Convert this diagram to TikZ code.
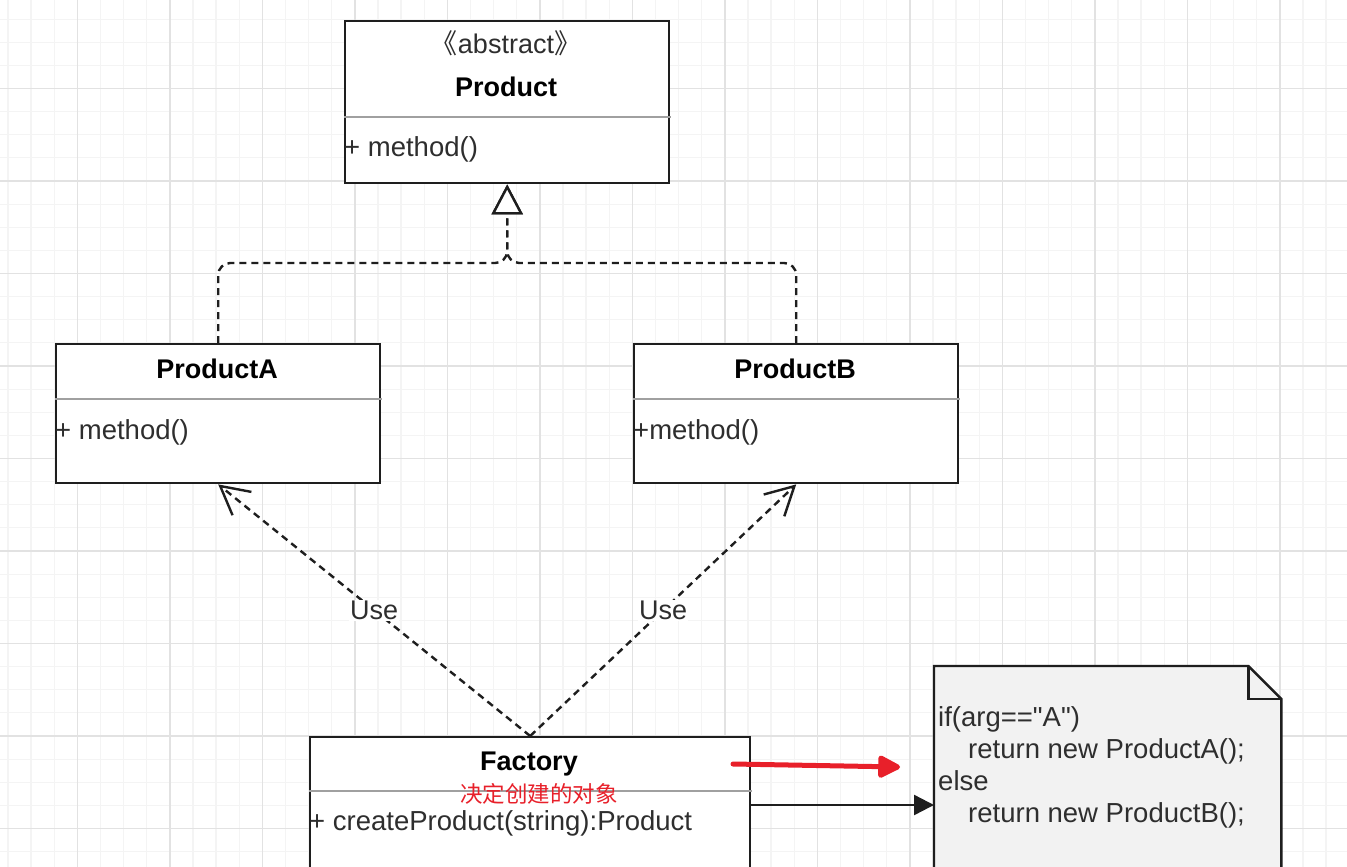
\documentclass[tikz,border=0pt]{standalone}
\usepackage{fontspec}
\setmainfont{Liberation Sans}
\newfontfamily\notefont{Liberation Sans}
\newfontfamily\cjkfont{Noto Sans CJK SC}
\usetikzlibrary{arrows.meta}
\definecolor{gridmin}{HTML}{F4F4F4}
\definecolor{gridmaj}{HTML}{E2E2E2}
\definecolor{edge}{HTML}{1E1E1E}
\definecolor{sepc}{HTML}{A0A0A0}
\definecolor{txt}{HTML}{2E2E2E}
\definecolor{redmark}{HTML}{E8202A}
\definecolor{notefill}{HTML}{F2F2F2}
\tikzset{
  gridminor/.style={draw=gridmin, line width=1.2pt},
  gridmajor/.style={draw=gridmaj, line width=1.4pt},
  classbox/.style={draw=edge, line width=2.4pt, fill=white, inner sep=0pt, anchor=north west},
  sepline/.style={draw=sepc, line width=1.8pt},
  titletxt/.style={font=\bfseries\fontsize{27}{31}\selectfont, text=black, anchor=base, inner sep=0pt},
  stereotxt/.style={font=\fontsize{27}{31}\selectfont, text=txt, anchor=base, inner sep=0pt},
  membertxt/.style={font=\fontsize{27.5}{31}\selectfont, text=txt, anchor=base west, inner sep=0pt},
  dashedline/.style={draw=edge, line width=2.4pt, dash pattern=on 7pt off 5pt},
  realize/.style={dashedline, rounded corners=12pt, -{Triangle[fill=white, length=30pt, width=31pt]}},
  usearrow/.style={dashedline, -{Straight Barb[length=28pt, width=30pt]}},
  uselbl/.style={fill=white, inner sep=1pt, font=\fontsize{27}{31}\selectfont, text=txt},
  solidarrow/.style={draw=edge, line width=2.4pt, -{Triangle[length=20pt, width=20pt]}},
  redarrow/.style={draw=redmark, line width=5pt, line cap=round, -{Triangle[length=25pt, width=24pt, round]}},
  notetxt/.style={font=\notefont\fontsize{27.5}{31}\selectfont, text=txt, anchor=base west, inner sep=0pt}
}
\begin{document}
\begin{tikzpicture}[x=1pt,y=-1pt]
\useasboundingbox (0,0) rectangle (1347,867);
\clip (0,0) rectangle (1347,867);
\fill[white] (0,0) rectangle (1347,867);
% grid
\foreach \i in {-4,...,55} {\draw[gridminor] ({77.3+23.125*\i},0) -- ({77.3+23.125*\i},867);}
\foreach \j in {-4,...,34} {\draw[gridminor] (0,{88.5+23.125*\j}) -- (1347,{88.5+23.125*\j});}
\foreach \i in {0,...,13} {\draw[gridmajor] ({77.3+92.5*\i},0) -- ({77.3+92.5*\i},867);}
\foreach \j in {0,...,8} {\draw[gridmajor] (0,{88.5+92.5*\j}) -- (1347,{88.5+92.5*\j});}

% Product
\node[classbox, minimum width=324pt, minimum height=162pt] (prod) at (344,20) {};
\draw[sepline] (344,117) -- (671,117);
\node[stereotxt] (abs) at (506,54) {{\cjkfont 《}abstract{\cjkfont 》}};
\node[titletxt] (prodt) at (506,96) {Product};
\node[membertxt] (prodm) at (344,156) {+ method()};

% ProductA
\node[classbox, minimum width=324pt, minimum height=139pt] (pa) at (55,343) {};
\draw[sepline] (55,399) -- (382,399);
\node[titletxt] (pat) at (217,378) {ProductA};
\node[membertxt] (pam) at (55,439) {+ method()};

% ProductB
\node[classbox, minimum width=324pt, minimum height=139pt] (pb) at (633,343) {};
\draw[sepline] (633,399) -- (960,399);
\node[titletxt] (pbt) at (795,378) {ProductB};
\node[membertxt] (pbm) at (633,439) {+method()};

% Factory
\node[classbox, minimum width=440pt, minimum height=200pt] (fac) at (309,736) {};
\draw[sepline] (309,791) -- (752,791);
\node[titletxt] (fact) at (529,770) {Factory};
\node[font=\cjkfont\fontsize{22.5}{26}\selectfont, text=redmark, inner sep=0pt] (facc) at (539,794) {决定创建的对象};
\node[membertxt] (facm) at (309,830) {+ createProduct(string):Product};

% Note
\node[minimum width=347pt, minimum height=260pt, anchor=north west, inner sep=0pt] (notebox) at (934,666) {};
\filldraw[fill=notefill, draw=edge, line width=2.4pt, line join=miter]
  (notebox.north west) -- ([xshift=-33pt]notebox.north east) -- ([yshift=-33pt]notebox.north east)
  -- (notebox.south east) -- (notebox.south west) -- cycle;
\draw[draw=edge, line width=2.4pt] ([xshift=-33pt]notebox.north east) -- ([xshift=-33pt,yshift=-33pt]notebox.north east) -- ([yshift=-33pt]notebox.north east);
\node[notetxt] (n1) at (938,726) {if(arg=="A")};
\node[notetxt] (n2) at (968,758) {return new ProductA();};
\node[notetxt] (n3) at (938,790) {else};
\node[notetxt] (n4) at (968,822) {return new ProductB();};

% realization
\draw[realize] (pa.north) |- (prod.south |- 0,263) -- (prod.south);
\draw[realize] (pb.north) |- (prod.south |- 0,263) -- (prod.south);

% use
\draw[usearrow] (fac.north) -- node[uselbl] (u1) {Use} (pa.south);
\draw[usearrow] (fac.north) -- node[uselbl] (u2) {Use} (pb.south);

% factory -> note
\draw[solidarrow] (fac.east |- 0,805) -- (notebox.west |- 0,805);

% red annotation arrow
\coordinate (r1) at (733,764);
\coordinate (r2) at (900,767);
\draw[redarrow] (r1) -- (r2);
\end{tikzpicture}
\end{document}
